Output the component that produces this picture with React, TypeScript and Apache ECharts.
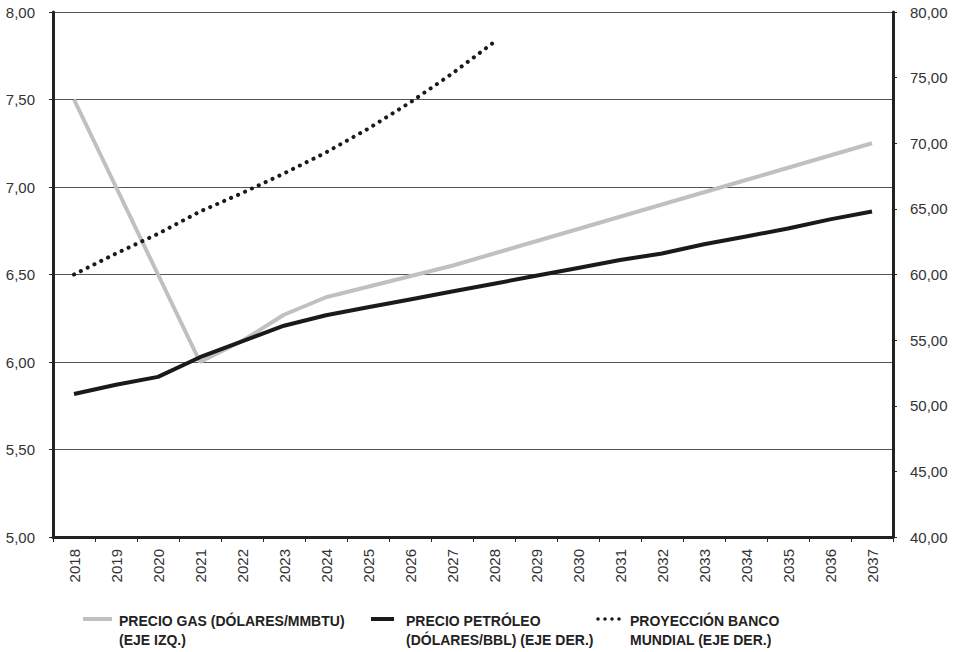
import React, { useEffect, useRef } from "react";
import * as echarts from "echarts";

const years = ["2018","2019","2020","2021","2022","2023","2024","2025","2026","2027","2028","2029","2030","2031","2032","2033","2034","2035","2036","2037"];
const gasPrice = [7.5, 7.0, 6.5, 6.0, 6.12, 6.27, 6.37, 6.43, 6.49, 6.55, 6.62, 6.69, 6.76, 6.83, 6.9, 6.97, 7.04, 7.11, 7.18, 7.25];
const oilPrice = [50.9, 51.6, 52.2, 53.7, 54.9, 56.1, 56.9, 57.5, 58.1, 58.7, 59.3, 59.9, 60.5, 61.1, 61.6, 62.3, 62.9, 63.5, 64.2, 64.8];
const worldBank = [60.0, 61.6, 63.1, 64.8, 66.2, 67.7, 69.3, 71.1, 73.1, 75.3, 77.7];

const gasName = "PRECIO GAS (DÓLARES/MMBTU)\n(EJE IZQ.)";
const oilName = "PRECIO PETRÓLEO\n(DÓLARES/BBL) (EJE DER.)";
const wbName = "PROYECCIÓN BANCO\nMUNDIAL (EJE DER.)";

const fmt = (v: number) => v.toFixed(2).replace(".", ",");

// legend icons: a box of itemWidth x 38, mark drawn near the first text line
const lineIcon = (len: number, box: number) =>
  `path://M0,0L0.01,0M0,6H${len}V10H0ZM${box - 0.01},38L${box},38`;
const dotIcon = (() => {
  const r = 1.8;
  let d = "path://M0,0L0.01,0";
  [2, 9, 16, 23].forEach((cx) => {
    d += `M${cx - r},8a${r},${r} 0 1,0 ${2 * r},0a${r},${r} 0 1,0 ${-2 * r},0Z`;
  });
  d += "M28.99,38L29,38";
  return d;
})();

export default function App() {
  const ref = useRef<HTMLDivElement>(null);
  useEffect(() => {
    if (!ref.current) return;
    const chart = echarts.init(ref.current, null, { renderer: "svg" });
    const legendText = {
      fontFamily: "Liberation Sans, Arial, sans-serif",
      fontWeight: "bold" as const,
      fontSize: 14,
      color: "#222",
      lineHeight: 19,
    };
    const legendBase = {
      top: 611,
      padding: 0,
      itemHeight: 38,
      symbolKeepAspect: false,
      itemStyle: { borderWidth: 0 },
      textStyle: legendText,
    };
    chart.setOption({
      animation: false,
      backgroundColor: "#fff",
      grid: { left: 53, right: 69, top: 12, bottom: 115 },
      legend: [
        { ...legendBase, left: 83, itemWidth: 31, icon: lineIcon(29, 31), data: [gasName] },
        { ...legendBase, left: 371, itemWidth: 30, icon: lineIcon(23, 30), data: [oilName] },
        { ...legendBase, left: 596, itemWidth: 29, icon: dotIcon, data: [wbName] },
      ],
      xAxis: {
        type: "category",
        data: years,
        boundaryGap: true,
        axisLine: { lineStyle: { color: "#222", width: 3 } },
        axisTick: { show: true, length: 5, lineStyle: { color: "#222", width: 1 } },
        axisLabel: {
          rotate: 90,
          margin: 12,
          fontFamily: "Liberation Sans, Arial, sans-serif",
          fontSize: 15,
          color: "#333",
        },
      },
      yAxis: [
        {
          type: "value",
          min: 5,
          max: 8,
          interval: 0.5,
          position: "left",
          axisLine: { show: true, lineStyle: { color: "#222", width: 3 } },
          axisTick: { show: true, length: 4, lineStyle: { color: "#222" } },
          axisLabel: {
            formatter: fmt,
            margin: 18,
            fontFamily: "Liberation Sans, Arial, sans-serif",
            fontSize: 15,
            color: "#333",
          },
          splitLine: { show: true, lineStyle: { color: "#555", width: 1 } },
        },
        {
          type: "value",
          min: 40,
          max: 80,
          interval: 5,
          position: "right",
          axisLine: { show: true, lineStyle: { color: "#222", width: 3 } },
          axisTick: { show: true, length: 4, lineStyle: { color: "#222" } },
          axisLabel: {
            formatter: fmt,
            margin: 17,
            fontFamily: "Liberation Sans, Arial, sans-serif",
            fontSize: 15,
            color: "#333",
          },
          splitLine: { show: false },
        },
      ],
      series: [
        {
          name: gasName,
          type: "line",
          yAxisIndex: 0,
          data: gasPrice,
          symbol: "none",
          color: "#c0c0c0",
          lineStyle: { color: "#c0c0c0", width: 4 },
          z: 2,
        },
        {
          name: oilName,
          type: "line",
          yAxisIndex: 1,
          data: oilPrice,
          symbol: "none",
          color: "#1a1a1a",
          lineStyle: { color: "#1a1a1a", width: 4 },
          z: 3,
        },
        {
          name: wbName,
          type: "line",
          yAxisIndex: 1,
          data: worldBank,
          symbol: "none",
          color: "#1a1a1a",
          lineStyle: { color: "#1a1a1a", width: 4, type: [0.1, 7.5], cap: "round" },
          z: 4,
        },
      ],
    });
    return () => chart.dispose();
  }, []);
  return (
    <div
      ref={ref}
      style={{ position: "fixed", left: 0, top: 0, width: 962, height: 652, background: "#fff" }}
    />
  );
}
